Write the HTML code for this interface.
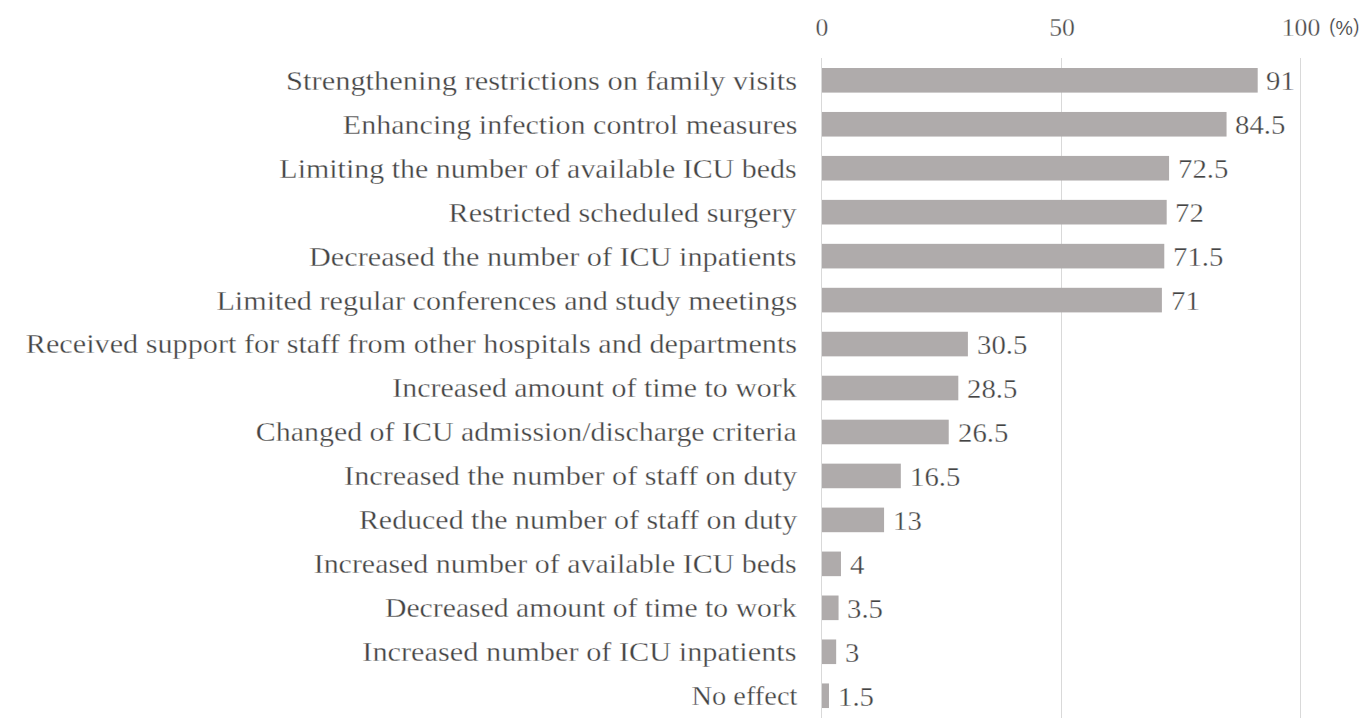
<!DOCTYPE html>
<html><head><meta charset="utf-8"><style>
html,body{margin:0;padding:0;background:#fff;width:1372px;height:725px;overflow:hidden;position:relative}
svg{position:absolute;left:0;top:0}
.lab,.val,.ax,.pct{position:absolute;white-space:nowrap;-webkit-text-stroke:0.3px #fff}
.lab{right:575px;height:60px;line-height:60px;font-family:"Liberation Serif",serif;font-size:27.2px;color:#444444;transform-origin:right center}
.val{height:60px;line-height:60px;font-family:"Liberation Serif",serif;font-size:26.5px;color:#444444;transform:scaleX(1.085);transform-origin:left center}
.ax{top:-0.3px;height:56px;line-height:56px;font-family:"Liberation Serif",serif;font-size:24.5px;color:#4a4a4a;width:80px;text-align:center;transform:scaleX(1.05)}
.pct{left:1329px;top:-2px;height:56px;line-height:56px;font-family:"Liberation Sans",sans-serif;font-size:21px;color:#333333;transform:scaleX(0.93);transform-origin:left center;-webkit-text-stroke:0}
.pp{-webkit-text-stroke:0.35px #fff}
.pc{position:relative;top:1.8px;-webkit-text-stroke:0.2px #fff}
</style></head><body>
<svg width="1372" height="725" viewBox="0 0 1372 725">
<g fill="#d9d9d9"><rect x="821" y="58" width="1" height="660"/><rect x="1061" y="58" width="1" height="660"/><rect x="1300" y="58" width="1" height="660"/></g>
<g fill="#afabab">
<rect x="822" y="68.00" width="435.69" height="24.6"/>
<rect x="822" y="111.96" width="404.55" height="24.6"/>
<rect x="822" y="155.92" width="347.07" height="24.6"/>
<rect x="822" y="199.88" width="344.68" height="24.6"/>
<rect x="822" y="243.84" width="342.28" height="24.6"/>
<rect x="822" y="287.80" width="339.89" height="24.6"/>
<rect x="822" y="331.76" width="145.89" height="24.6"/>
<rect x="822" y="375.72" width="136.31" height="24.6"/>
<rect x="822" y="419.68" width="126.73" height="24.6"/>
<rect x="822" y="463.64" width="78.83" height="24.6"/>
<rect x="822" y="507.60" width="62.07" height="24.6"/>
<rect x="822" y="551.56" width="18.96" height="24.6"/>
<rect x="822" y="595.52" width="16.56" height="24.6"/>
<rect x="822" y="639.48" width="14.17" height="24.6"/>
<rect x="822" y="683.44" width="6.98" height="24.6"/>
</g>
</svg>
<div class="ax" style="left:782px">0</div>
<div class="ax" style="left:1021.5px">50</div>
<div class="ax" style="left:1261px">100</div>
<div class="pct"><span class="pp">(</span><span class="pc">%</span><span class="pp">)</span></div>
<div class="lab" style="top:50.70px;transform:scaleX(1.1204)">Strengthening restrictions on family visits</div>
<div class="val" style="top:51.10px;left:1266.49px">91</div>
<div class="lab" style="top:94.66px;transform:scaleX(1.1049)">Enhancing infection control measures</div>
<div class="val" style="top:95.06px;left:1235.35px">84.5</div>
<div class="lab" style="top:138.62px;transform:scaleX(1.1015)">Limiting the number of available ICU beds</div>
<div class="val" style="top:139.02px;left:1177.87px">72.5</div>
<div class="lab" style="top:182.58px;transform:scaleX(1.1098)">Restricted scheduled surgery</div>
<div class="val" style="top:182.98px;left:1175.48px">72</div>
<div class="lab" style="top:226.54px;transform:scaleX(1.1117)">Decreased the number of ICU inpatients</div>
<div class="val" style="top:226.94px;left:1173.08px">71.5</div>
<div class="lab" style="top:270.50px;transform:scaleX(1.1101)">Limited regular conferences and study meetings</div>
<div class="val" style="top:270.90px;left:1170.69px">71</div>
<div class="lab" style="top:314.46px;transform:scaleX(1.1112)">Received support for staff from other hospitals and departments</div>
<div class="val" style="top:314.86px;left:976.69px">30.5</div>
<div class="lab" style="top:358.42px;transform:scaleX(1.0997)">Increased amount of time to work</div>
<div class="val" style="top:358.82px;left:967.11px">28.5</div>
<div class="lab" style="top:402.38px;transform:scaleX(1.1000)">Changed of ICU admission/discharge criteria</div>
<div class="val" style="top:402.78px;left:957.53px">26.5</div>
<div class="lab" style="top:446.34px;transform:scaleX(1.1127)">Increased the number of staff on duty</div>
<div class="val" style="top:446.74px;left:909.63px">16.5</div>
<div class="lab" style="top:490.30px;transform:scaleX(1.1007)">Reduced the number of staff on duty</div>
<div class="val" style="top:490.70px;left:892.87px">13</div>
<div class="lab" style="top:534.26px;transform:scaleX(1.1011)">Increased number of available ICU beds</div>
<div class="val" style="top:534.66px;left:849.76px">4</div>
<div class="lab" style="top:578.22px;transform:scaleX(1.0930)">Decreased amount of time to work</div>
<div class="val" style="top:578.62px;left:847.36px">3.5</div>
<div class="lab" style="top:622.18px;transform:scaleX(1.1147)">Increased number of ICU inpatients</div>
<div class="val" style="top:622.58px;left:844.97px">3</div>
<div class="lab" style="top:666.14px;transform:scaleX(1.0437)">No effect</div>
<div class="val" style="top:666.54px;left:837.78px">1.5</div>
</body></html>
